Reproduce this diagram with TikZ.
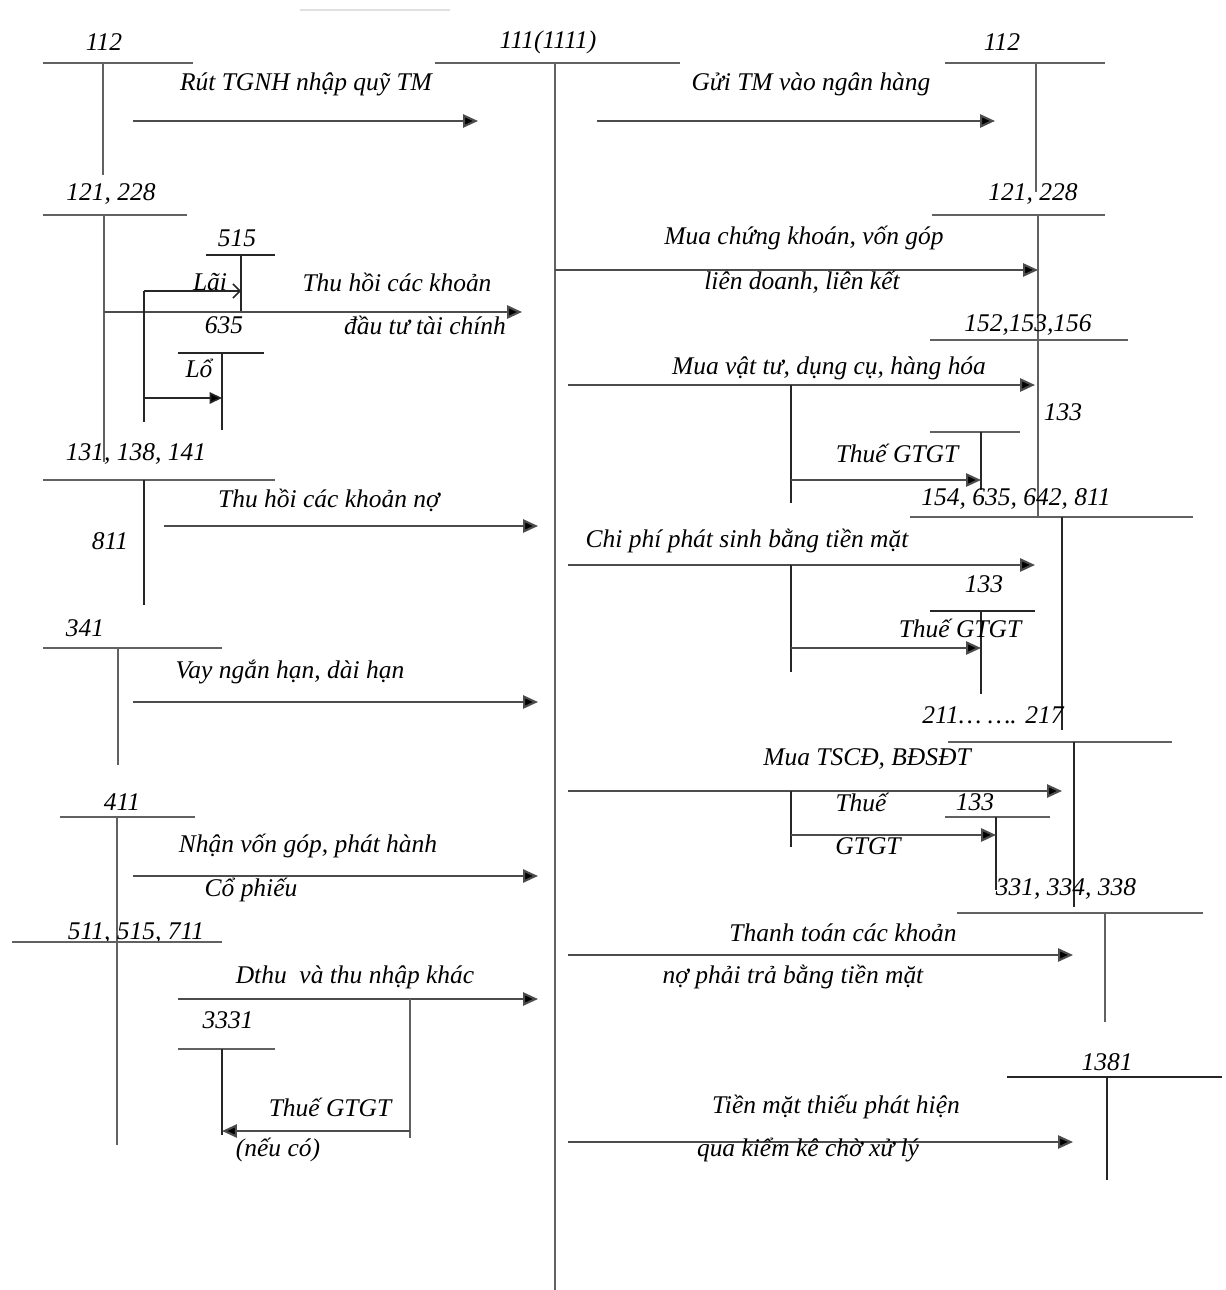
\documentclass[tikz,border=0pt]{standalone}
\usepackage{fontspec}
\setmainfont{Liberation Serif}
\usepackage{tikz}
\usetikzlibrary{arrows.meta}

\begin{document}
\begin{tikzpicture}[
    x=0.02cm, y=-0.02cm,
    every node/.style={font=\itshape\fontsize{14.5}{16}\selectfont, inner sep=0pt},
    tacc/.style={draw=black!62, line width=1.3pt},
    tthin/.style={draw=black!85, line width=0.9pt},
    arrow/.style={-{Triangle[length=8.5pt, width=7.5pt, fill=black]}, draw=black!70, line width=1.2pt},
    openarrow/.style={-{Straight Barb[length=4pt, width=8pt]}, tthin}
]
\useasboundingbox (0,0) rectangle (1225,1290);
\draw[black!12, line width=1pt] (300,10) -- (450,10);

% centre account
\node (a111) at (548,42) {111(1111)};
\draw[tacc] (435,63) -- (680,63) (555,63) -- (555,1290);

% ---- left side accounts
\node (a112l) at (104,42) {112};
\draw[tacc] (43,63) -- (193,63) (103,63) -- (103,175);
\node (a121l) at (111,194) {121, 228};
\draw[tacc] (43,215) -- (187,215) (104,215) -- (104,462);
\node (a515) at (237,238) {515};
\draw[tthin] (206,255) -- (275,255) (241,255) -- (241,312);
\node (a635) at (224,325) {635};
\draw[tthin] (178,353) -- (264,353) (222,353) -- (222,430);
\node (a131) at (136,454) {131, 138, 141};
\draw[tacc] (43,480) -- (275,480);
\draw[tthin] (144,480) -- (144,605);
\node (a811) at (110,541) {811};
\node (a341) at (85,628) {341};
\draw[tacc] (43,648) -- (222,648) (118,648) -- (118,765);
\node (a411) at (122,802) {411};
\draw[tacc] (60,817) -- (195,817) (117,817) -- (117,1145);
\node (a511) at (136,933) {511, 515, 711};
\draw[tacc] (12,942) -- (222,942);
\node (a3331) at (228,1020) {3331};
\draw[tacc] (178,1049) -- (275,1049);
\draw[tthin] (222,1049) -- (222,1135);

% ---- right side accounts
\node (a112r) at (1002,42) {112};
\draw[tacc] (945,63) -- (1105,63) (1036,63) -- (1036,192);
\node (a121r) at (1033,194) {121, 228};
\draw[tacc] (932,215) -- (1105,215) (1038,215) -- (1038,340);
\node (a152) at (1028,325) {152,153,156};
\draw[tacc] (930,340) -- (1128,340) (1038,340) -- (1038,517);
\node (a133a) at (1063,412) {133};
\draw[tacc] (930,432) -- (1020,432);
\draw[tthin] (981,432) -- (981,490);
\node (a154) at (1016,499) {154, 635, 642, 811};
\draw[tacc] (910,517) -- (1193,517);
\draw[tthin] (1062,517) -- (1062,730);
\node (a133b) at (984,584) {133};
\draw[tthin] (930,611) -- (1035,611) (981,611) -- (981,694);
\node (a211) at (993,715) {211… …. 217};
\draw[tacc] (948,742) -- (1172,742);
\draw[tthin] (1074,742) -- (1074,907);
\node (a133c) at (975,802) {133};
\draw[tacc] (945,817) -- (1050,817);
\draw[tthin] (996,817) -- (996,890);
\node (a331) at (1066,889) {331, 334, 338};
\draw[tacc] (957,913) -- (1203,913) (1105,913) -- (1105,1022);
\node (a1381) at (1107,1062) {1381};
\draw[tthin] (1007,1077) -- (1222,1077) (1107,1077) -- (1107,1180);

% ---- arrow end points
\coordinate (rutS) at (133,121);   \coordinate (rutE) at (478,121);
\coordinate (guiS) at (597,121);   \coordinate (guiE) at (995,121);
\coordinate (dtS) at (104,312);    \coordinate (dtE) at (522,312);
\coordinate (laiS) at (144,291);   \coordinate (laiE) at (241,291);
\coordinate (loS) at (144,398);    \coordinate (loE) at (222,398);
\coordinate (noS) at (164,526);    \coordinate (noE) at (538,526);
\coordinate (vayS) at (133,702);   \coordinate (vayE) at (538,702);
\coordinate (vonS) at (133,876);   \coordinate (vonE) at (538,876);
\coordinate (dthuS) at (178,999);  \coordinate (dthuE) at (538,999);
\coordinate (vatS) at (410,1131);  \coordinate (vatE) at (222,1131);
\coordinate (ckS) at (555,270);    \coordinate (ckE) at (1038,270);
\coordinate (vtS) at (568,385);    \coordinate (vtE) at (1035,385);
\coordinate (vt133S) at (791,480); \coordinate (vt133E) at (981,480);
\coordinate (cpS) at (568,565);    \coordinate (cpE) at (1035,565);
\coordinate (cp133S) at (791,648); \coordinate (cp133E) at (981,648);
\coordinate (tsS) at (568,791);    \coordinate (tsE) at (1062,791);
\coordinate (ts133S) at (791,835); \coordinate (ts133E) at (996,835);
\coordinate (ttS) at (568,955);    \coordinate (ttE) at (1073,955);
\coordinate (thS) at (568,1142);   \coordinate (thE) at (1073,1142);

% ---- left side flows
\draw[arrow] (rutS) -- (rutE);
\node (lRut) at (306,84) {Rút TGNH nhập quỹ TM};
\draw[arrow] (dtS) -- (dtE);
\draw[tthin] (laiS) -- (144,422);
\draw[openarrow] (laiS) -- (laiE);
\draw[-{Triangle[length=7pt, width=6.5pt, fill=black]}, tthin] (loS) -- (loE);
\node (lLai) at (210,282) {Lãi};
\node (lLo) at (199,368) {Lổ};
\node (lThuHoi) at (397,282) {Thu hồi các khoản};
\node (lDauTu) at (425,325) {đầu tư tài chính};
\draw[arrow] (noS) -- (noE);
\node (lNo) at (329,500) {Thu hồi các khoản nợ};
\draw[arrow] (vayS) -- (vayE);
\node (lVay) at (290,672) {Vay ngắn hạn, dài hạn};
\draw[arrow] (vonS) -- (vonE);
\node (lVon) at (308,846) {Nhận vốn góp, phát hành};
\node (lCoPhieu) at (251,890) {Cổ phiếu};
\draw[arrow] (dthuS) -- (dthuE);
\node (lDthu) at (355,977) {Dthu\ \ và thu nhập khác};
\draw[tacc] (410,999) -- (410,1138);
\draw[arrow] (vatS) -- (vatE);
\node (lVat) at (330,1107) {Thuế GTGT};
\node (lNeuCo) at (278,1150) {(nếu có)};

% ---- right side flows
\draw[arrow] (guiS) -- (guiE);
\node (lGui) at (811,84) {Gửi TM vào ngân hàng};
\draw[arrow] (ckS) -- (ckE);
\node (lCk1) at (804,238) {Mua chứng khoán, vốn góp};
\node (lCk2) at (802,282) {liên doanh, liên kết};
\draw[arrow] (vtS) -- (vtE);
\node (lVt) at (829,368) {Mua vật tư, dụng cụ, hàng hóa};
\draw[tthin] (791,385) -- (791,503);
\draw[arrow] (vt133S) -- (vt133E);
\node (lVt133) at (897,453) {Thuế GTGT};
\draw[arrow] (cpS) -- (cpE);
\node (lCp) at (747,541) {Chi phí phát sinh bằng tiền mặt};
\draw[tthin] (791,565) -- (791,672);
\draw[arrow] (cp133S) -- (cp133E);
\node (lCp133) at (960,628) {Thuế GTGT};
\draw[arrow] (tsS) -- (tsE);
\node (lTs) at (867,759) {Mua TSCĐ, BĐSĐT};
\draw[tthin] (791,791) -- (791,847);
\draw[arrow] (ts133S) -- (ts133E);
\node (lTs1) at (861,802) {Thuế};
\node (lTs2) at (868,846) {GTGT};
\draw[arrow] (ttS) -- (ttE);
\node (lTt1) at (843,933) {Thanh toán các khoản};
\node (lTt2) at (793,977) {nợ phải trả bằng tiền mặt};
\draw[arrow] (thS) -- (thE);
\node (lTh1) at (836,1107) {Tiền mặt thiếu phát hiện};
\node (lTh2) at (808,1150) {qua kiểm kê chờ xử lý};
\end{tikzpicture}
\end{document}
